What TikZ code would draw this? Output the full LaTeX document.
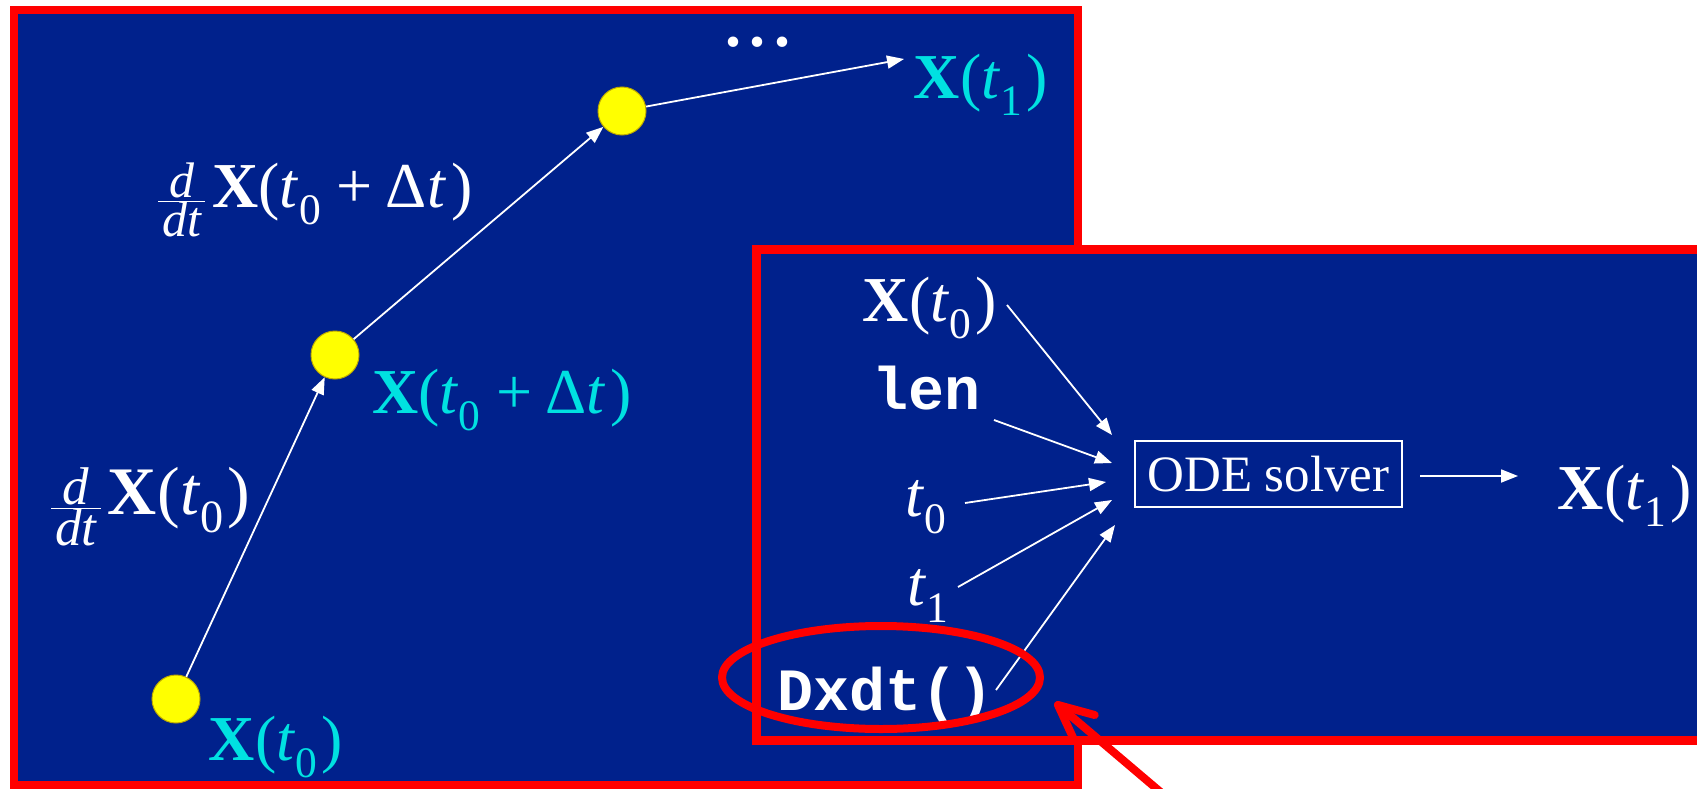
\documentclass[tikz,border=0pt]{standalone}
\usepackage{fontspec}
\setmainfont{Liberation Serif}
\setmonofont{Liberation Mono}
\usepackage{graphicx}
\usetikzlibrary{arrows.meta,calc}
\definecolor{slideblue}{RGB}{0,33,140}
\definecolor{lblcyan}{RGB}{0,225,225}
\definecolor{dotyellow}{RGB}{255,255,0}
\definecolor{dotedge}{RGB}{190,170,0}
\newcommand\sbx[1]{\raisebox{-0.27em}{\scalebox{0.68}{#1}}}
\newcommand\ddt{\ensuremath{\frac{\mbox{\scalebox{0.78}{\itshape d}}}{\mbox{\hspace{4bp}\scalebox{0.78}{\itshape dt}\hspace{4bp}}}}\hspace{6bp}}
\newcommand\Xt[1]{\textbf{X}\hspace{1bp}(\textit{t}\sbx{#1}\hspace{4bp})}
\newcommand\Xtd{\textbf{X}(\textit{t}\sbx{0}\hspace{16bp}+\hspace{13bp}Δ\textit{t}\hspace{5bp})}
\tikzset{
  panel/.style={draw=red, line width=8bp, fill=slideblue},
  lbl/.style={anchor=base west, inner sep=0, font=\fontsize{64bp}{70bp}\selectfont},
  cy/.style={lbl, text=lblcyan},
  wt/.style={lbl, text=white},
  codetext/.style={anchor=base west, inner sep=0, text=white, font=\fontsize{60bp}{66bp}\selectfont\ttfamily\bfseries},
  ydot/.style={circle, fill=dotyellow, draw=dotedge, line width=1bp, minimum size=48bp, inner sep=0},
  warrow/.style={draw=white, line width=1.8bp, -{Triangle[length=17bp,width=13bp]}},
  redmark/.style={draw=red, line width=8bp, line cap=round, line join=round},
  odebox/.style={draw=white, line width=2.2bp, text=white, minimum width=267bp, minimum height=66bp, inner sep=0, font=\fontsize{51bp}{56bp}\selectfont}
}
\begin{document}
\begin{tikzpicture}[x=1bp,y=-1bp]
\useasboundingbox (0,0) rectangle (1697,789);
\clip (0,0) rectangle (1697,789);
\fill[white] (0,0) rectangle (1697,789);
% left panel
\draw[panel] (14,10) rectangle (1077.5,785);
\node[ydot] (d1) at (176,699) {};
\node[ydot] (d2) at (335,355) {};
\node[ydot] (d3) at (622,111) {};
\coordinate (e3) at (904,59);
\draw[warrow] (d1) -- (d2);
\draw[warrow] (d2) -- (d3);
\draw[warrow] (d3) -- (e3);
\node[cy] (lx1) at (913,98) {\Xt{1}};
\node[wt, anchor=base] (dots) at (758,47) {\textbf{.\hspace{9bp}.\hspace{9bp}.}};
\node[cy] (lxd) at (372,413) {\Xtd};
\node[cy] (lx0) at (208,760) {\Xt{0}};
\node[wt] (dd1) at (157,207) {\ddt\Xtd};
\node[wt, font=\fontsize{68bp}{74bp}\selectfont] (dd0) at (50,514) {\ddt\Xt{0}};
% right panel
\draw[panel, line width=9bp] (756,249) rectangle (1720,740.5);
\node[wt] (rx0) at (862,321) {\Xt{0}};
\node[codetext] (rlen) at (872,409) {len};
\node[wt] (rt0) at (905,516) {\textit{t}\sbx{0}};
\node[wt] (rt1) at (907,605) {\textit{t}\sbx{1}};
\node[codetext] (rdx) at (777,710) {Dxdt()};
\node[odebox] (ode) at (1268.5,474) {ODE solver};
\node[wt] (rx1) at (1557,509) {\Xt{1}};
\coordinate (s1) at (1007,305); \coordinate (p1) at (1112,435);
\coordinate (s2) at (994,420);  \coordinate (p2) at (1112,463);
\coordinate (s3) at (965,503);  \coordinate (p3) at (1106,482);
\coordinate (s4) at (958,587);  \coordinate (p4) at (1112,500);
\coordinate (s5) at (996,690);  \coordinate (p5) at (1115,525);
\draw[warrow] (s1) -- (p1);
\draw[warrow] (s2) -- (p2);
\draw[warrow] (s3) -- (p3);
\draw[warrow] (s4) -- (p4);
\draw[warrow] (s5) -- (p5);
\coordinate (os) at (1420,476);
\coordinate (oe) at (1518,476);
\draw[warrow] (os) -- (oe);
% red highlight
\draw[redmark] (881,677.5) ellipse [x radius=159, y radius=51.5];
\coordinate (rtip) at (1058,705);
\coordinate (rtail) at (1210,834);
\coordinate (rw1) at (1094.7,715);
\coordinate (rw2) at (1073.9,739.5);
\draw[redmark] (rtail) -- (rtip);
\draw[redmark] (rw1) -- (rtip) -- (rw2);
\end{tikzpicture}
\end{document}
